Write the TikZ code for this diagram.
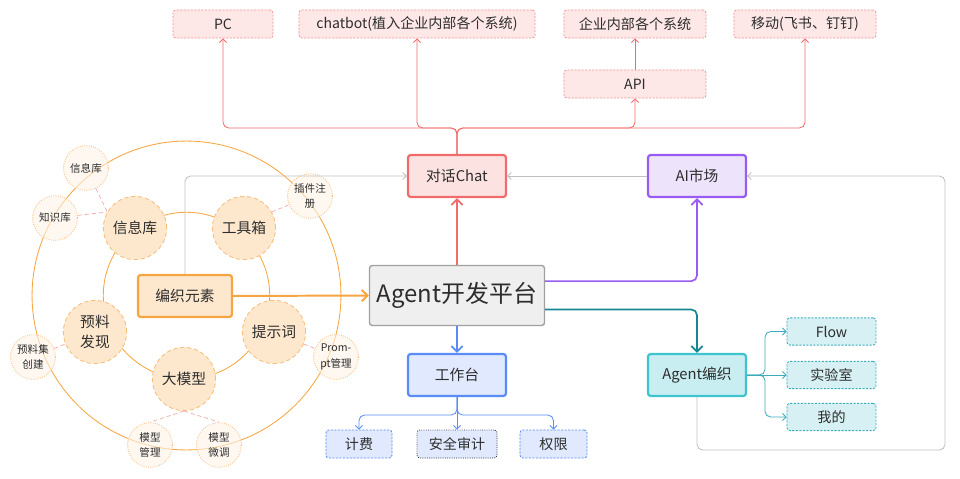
\documentclass[tikz,border=0pt]{standalone}
\usepackage{fontspec}
\setmainfont{Noto Sans CJK SC}
\usepackage{tikz}
\usetikzlibrary{arrows.meta,positioning,shapes.geometric,calc}
\definecolor{txtgray}{RGB}{45,45,45}
\definecolor{chatred}{RGB}{240,108,108}
\definecolor{chatfill}{RGB}{253,226,226}
\definecolor{toppink}{RGB}{243,150,150}
\definecolor{topfill}{RGB}{253,231,231}
\definecolor{mktpurple}{RGB}{152,92,240}
\definecolor{mktfill}{RGB}{237,228,252}
\definecolor{platgray}{RGB}{160,160,160}
\definecolor{platfill}{RGB}{239,239,239}
\definecolor{deskblue}{RGB}{90,140,245}
\definecolor{deskfill}{RGB}{224,233,253}
\definecolor{weaveteal}{RGB}{62,196,208}
\definecolor{weavefill}{RGB}{200,238,242}
\definecolor{itemteal}{RGB}{60,172,188}
\definecolor{itemfill}{RGB}{214,240,243}
\definecolor{darkteal}{RGB}{22,136,148}
\definecolor{knitorange}{RGB}{247,165,65}
\definecolor{knitfill}{RGB}{253,232,206}
\definecolor{elemborder}{RGB}{247,190,125}
\definecolor{leaffill}{RGB}{254,243,230}
\definecolor{linkpink}{RGB}{245,168,168}
\definecolor{loopgray}{RGB}{192,192,192}

\begin{document}
\begin{tikzpicture}[x=0.025cm,y=-0.025cm,text=txtgray,
  font=\fontsize{10}{12}\selectfont,
  thick tip/.style={-{Straight Barb[length=1.4mm,width=2.8mm]}},
  thin tip/.style={-{Straight Barb[length=0.9mm,width=1.8mm]}},
  box/.style={rectangle,rounded corners=2pt,inner sep=0pt,align=center},
  fine dash/.style={dash pattern=on 1.5pt off 1pt},
  topbox/.style={box,draw=toppink,fill=topfill,fine dash,line width=0.6pt,minimum height=0.7cm},
  mainbox/.style={box,line width=1.6pt,minimum width=2.45cm,minimum height=1.05cm,font=\fontsize{10.5}{12}\selectfont},
  chatbox/.style={mainbox,draw=chatred,fill=chatfill},
  marketbox/.style={mainbox,draw=mktpurple,fill=mktfill},
  deskbox/.style={mainbox,draw=deskblue,fill=deskfill},
  weavebox/.style={mainbox,draw=weaveteal,fill=weavefill},
  platbox/.style={box,draw=platgray,fill=platfill,line width=1pt,minimum width=4.375cm,minimum height=1.5cm,font=\fontsize{17}{20}\selectfont},
  deskitem/.style={box,draw=deskblue,fill=deskfill,fine dash,line width=0.6pt,minimum height=0.7cm},
  weaveitem/.style={box,draw=itemteal,fill=itemfill,fine dash,line width=0.6pt,minimum width=2.225cm,minimum height=0.68cm},
  knitbox/.style={box,draw=knitorange,fill=knitfill,line width=1.6pt,minimum width=2.35cm,minimum height=1.05cm,font=\fontsize{10.5}{12}\selectfont},
  elem/.style={circle,draw=elemborder,fill=knitfill,densely dashed,line width=0.6pt,minimum size=1.58cm,inner sep=0pt,align=center,font=\fontsize{10.5}{14}\selectfont},
  leaf/.style={circle,draw=elemborder,fill=leaffill,fill opacity=0.6,text opacity=1,densely dotted,line width=0.6pt,minimum size=1.12cm,inner sep=0pt,align=center,font=\fontsize{7.5}{11}\selectfont},
  ring/.style={draw=knitorange,line width=0.6pt},
  leaflink/.style={draw=linkpink,densely dashed,line width=0.5pt},
  conn/.style={rounded corners=4pt}]
  \useasboundingbox (0,0) rectangle (960,479);

  % outputs of the chat
  \node[topbox,minimum width=2.5cm] (pc) at (223,24) {PC};
  \node[topbox,minimum width=5.9cm] (bot) at (417,24) {chatbot(植入企业内部各个系统)};
  \node[topbox,minimum width=3.55cm] (sys) at (635,24) {企业内部各个系统};
  \node[topbox,minimum width=3.55cm] (mobile) at (805,24) {移动(飞书、钉钉)};
  \node[topbox,minimum width=3.55cm] (api) at (635,84) {API};

  % platform and its parts
  \node[chatbox] (chat) at (457,176) {对话Chat};
  \node[marketbox] (market) at (697,176) {AI市场};
  \node[platbox] (plat) at (457,295.5) {Agent开发平台};
  \node[deskbox] (desk) at (457,375) {工作台};
  \node[deskitem,minimum width=1.65cm] (fee) at (359,444) {计费};
  \node[deskitem,draw=black!80,densely dotted,minimum width=2cm] (audit) at (457,444) {安全审计};
  \node[deskitem,minimum width=1.675cm] (perm) at (553.5,444) {权限};
  \node[weavebox] (weave) at (697,375) {Agent编织};
  \node[weaveitem] (flow) at (831.5,331.5) {Flow};
  \node[weaveitem] (lab) at (831.5,375) {实验室};
  \node[weaveitem] (mine) at (831.5,417) {我的};

  \coordinate (topbus) at (457,128);
  \coordinate (deskbus) at (457,415);
  \coordinate (weavebus) at (765,375);
  \coordinate (loopc) at (945,450);

  \draw[chatred,line width=0.6pt,thin tip,conn] (chat.north) -- (topbus) -| (pc.south);
  \draw[chatred,line width=0.6pt,thin tip,conn] (chat.north) -- (topbus) -| (bot.south);
  \draw[chatred,line width=0.6pt,thin tip,conn] (chat.north) -- (topbus) -| (api.south);
  \draw[chatred,line width=0.6pt,thin tip,conn] (chat.north) -- (topbus) -| (mobile.south);
  \draw[chatred,line width=0.6pt,thin tip] (api.north) -- (sys.south);

  \draw[chatred,line width=1.2pt,thick tip] (plat.north) -- (chat.south);
  \draw[mktpurple,line width=1.2pt,thick tip,conn] ([yshift=0.36cm]plat.east) -| (market.south);
  \draw[darkteal,line width=1.2pt,thick tip,conn] ([yshift=-0.35cm]plat.east) -| (weave.north);
  \draw[deskblue,line width=1.2pt,thick tip] (plat.south) -- (desk.north);

  \draw[deskblue,line width=0.6pt,thin tip,conn] (desk.south) -- (deskbus) -| (fee.north);
  \draw[deskblue,line width=0.6pt,thin tip,conn] (desk.south) -- (audit.north);
  \draw[deskblue,line width=0.6pt,thin tip,conn] (desk.south) -- (deskbus) -| (perm.north);

  \draw[itemteal,line width=0.6pt,thin tip,conn] (weave.east) -- (weavebus) |- (flow.west);
  \draw[itemteal,line width=0.6pt,thin tip,conn] (weave.east) -- (lab.west);
  \draw[itemteal,line width=0.6pt,thin tip,conn] (weave.east) -- (weavebus) |- (mine.west);

  \draw[loopgray,line width=0.6pt,thin tip,conn] (weave.south) |- (loopc) |- (market.east);
  \draw[loopgray,line width=0.6pt,thin tip] (market.west) -- (chat.east);

  % knitting elements
  \draw[ring] (186.5,295.5) circle[radius=3.86cm];
  \draw[ring] (186.5,295.5) circle[radius=2.08cm];
  \node[knitbox] (knit) at (185,296) {编织元素};
  \node[elem] (info) at (135,228) {信息库};
  \node[elem] (tool) at (244,228) {工具箱};
  \node[elem] (corpus) at (95,332) {预料\\发现};
  \node[elem] (prompt) at (274,332) {提示词};
  \node[elem] (llm) at (184,379) {大模型};

  \node[leaf] (leafinfo) at (86,168) {信息库};
  \node[leaf] (leafkb) at (55,218) {知识库};
  \node[leaf] (leafplug) at (310,196) {插件注\\册};
  \node[leaf] (leafset) at (33,357) {预料集\\创建};
  \node[leaf] (leafpmt) at (336,357) {Prom-\\pt管理};
  \node[leaf] (leafmgmt) at (150,445) {模型\\管理};
  \node[leaf] (leaftune) at (219,445) {模型\\微调};

  \draw[leaflink] (leafinfo) -- (info.150);
  \draw[leaflink] (leafkb) -- (info.150);
  \draw[leaflink] (tool.30) -- (leafplug);
  \draw[leaflink] (leafset) -- (corpus);
  \draw[leaflink] (prompt) -- (leafpmt);
  \draw[leaflink] (llm.south) -- (leafmgmt.north);
  \draw[leaflink] (llm.south) -- (leaftune.north);

  \draw[loopgray,line width=0.6pt,thin tip,conn] (knit.north) |- (chat.west);
  \draw[knitorange,line width=1.4pt,thick tip] (knit.east) -- (plat.west);
\end{tikzpicture}
\end{document}
